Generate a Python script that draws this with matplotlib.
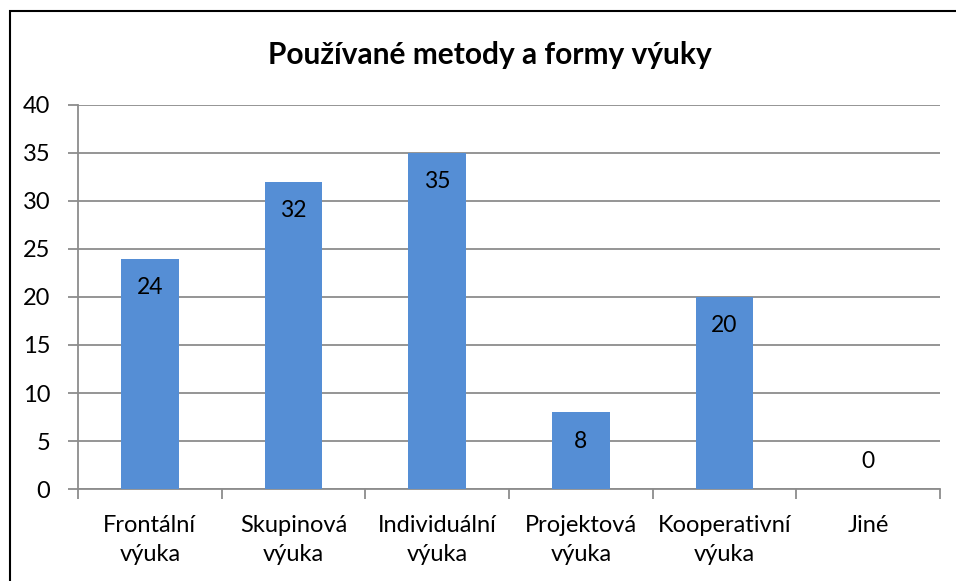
import matplotlib.pyplot as plt
from matplotlib.patches import Rectangle
import numpy as np

plt.rcParams['font.family'] = ['Lato', 'DejaVu Sans']

# data
categories = ['Frontální\nvýuka', 'Skupinová\nvýuka', 'Individuální\nvýuka',
              'Projektová\nvýuka', 'Kooperativní\nvýuka', 'Jiné']
values = [24, 32, 35, 8, 20, 0]
title = 'Používané metody a formy výuky'

bar_color = '#558ED5'
grid_color = '#8C8C8C'

fig = plt.figure(figsize=(9.56, 5.81), dpi=100)
ax = fig.add_axes([78 / 956, 1 - 489 / 581, (940 - 78) / 956, (489 - 105) / 581])

x = np.arange(len(categories))
ax.bar(x, values, width=0.4, color=bar_color, zorder=3)

ax.set_xlim(-0.5, len(categories) - 0.5)
ax.set_ylim(0, 40)
ax.set_yticks(range(0, 41, 5))
ax.yaxis.grid(True, color=grid_color, linewidth=1.3, zorder=0)

# category boundary ticks
ax.set_xticks(np.arange(-0.5, len(categories), 1))
ax.set_xticklabels([])
ax.set_xticks(x, minor=True)
ax.set_xticklabels(categories, minor=True, fontsize=17, linespacing=1.45)
ax.tick_params(axis='x', which='minor', length=0, pad=19)
ax.tick_params(axis='x', which='major', length=7, width=1.3, color=grid_color)
ax.tick_params(axis='y', length=7, width=1.3, color=grid_color, labelsize=17, pad=13)

for s in ['top', 'right']:
    ax.spines[s].set_visible(False)
for s in ['left', 'bottom']:
    ax.spines[s].set_color(grid_color)
    ax.spines[s].set_linewidth(1.3)

# value labels inside the bar ends
for xi, v in zip(x, values):
    if v > 0:
        ax.text(xi, v - 3.0, str(v), ha='center', va='center', fontsize=16.5, zorder=4)
    else:
        ax.text(xi, v + 2.9, str(v), ha='center', va='center', fontsize=16.5, zorder=4)

fig.text(490 / 956, 1 - 55 / 581, title, ha='center', va='center',
         fontsize=21.5, fontweight='bold')

# chart frame
fig.patches.append(Rectangle((10 / 956, -0.1), 1.2, 1 - 11 / 581 + 0.1,
                             transform=fig.transFigure, fill=False,
                             edgecolor='#000000', linewidth=1.5))

fig.savefig('out.png', dpi=100)
